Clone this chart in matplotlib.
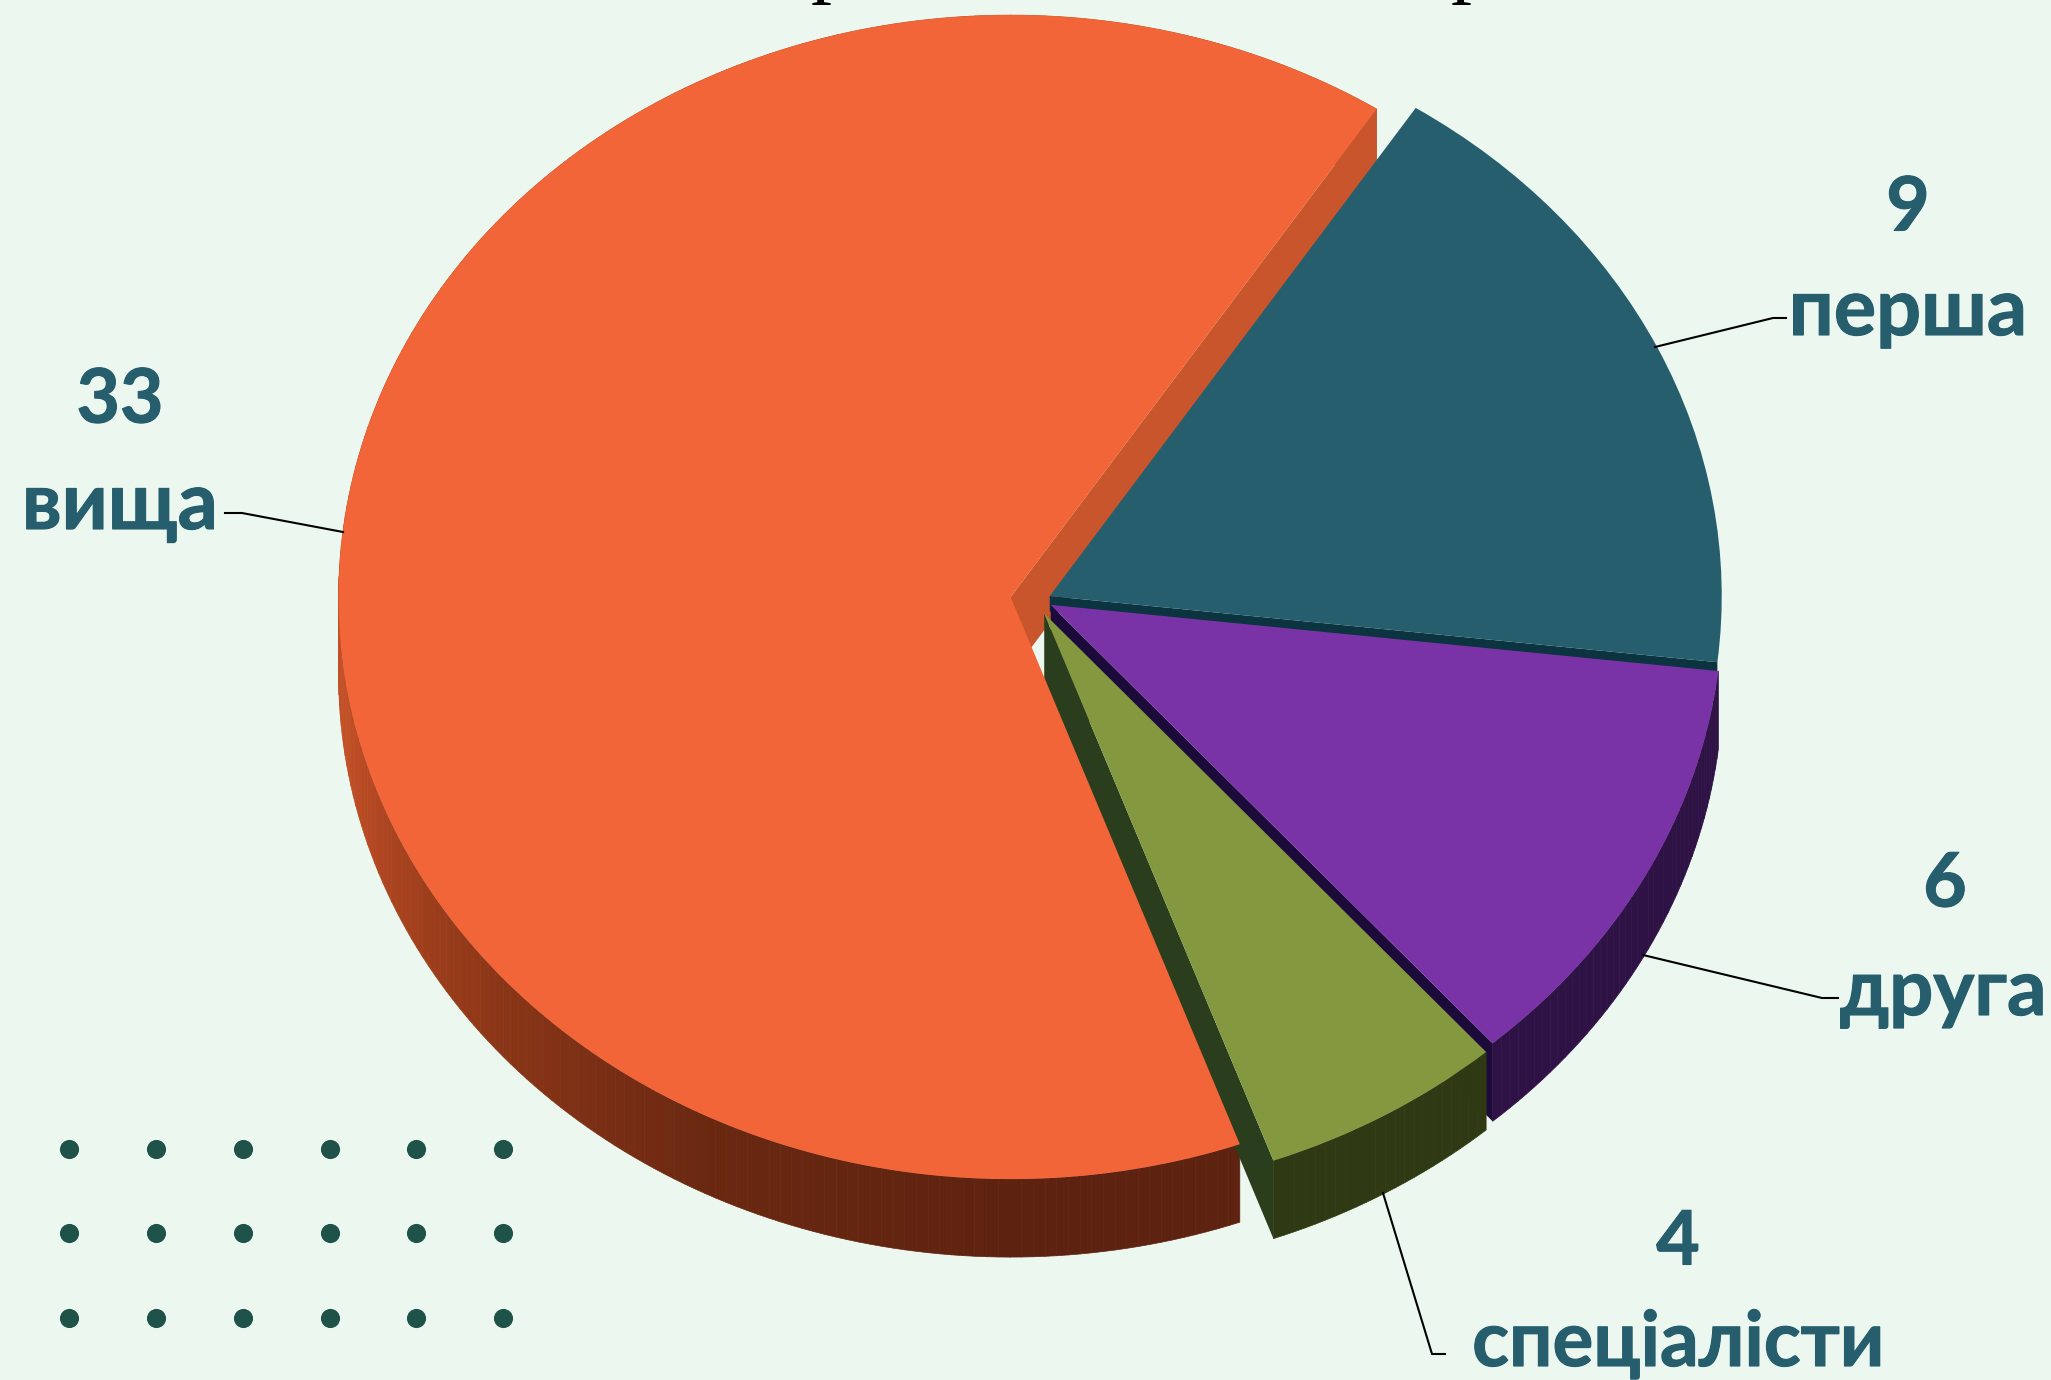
import numpy as np
import matplotlib
matplotlib.use("Agg")
import matplotlib.pyplot as plt
import matplotlib.patheffects as pe
from matplotlib.collections import PolyCollection
from matplotlib.colors import LinearSegmentedColormap

# slices go clockwise from the top right
labels = ["перша", "друга", "спеціалісти", "вища"]
value_labels = [9, 6, 4, 33]
# sizes as drawn: the green slice is drawn at 3 although its label says 4
slice_sizes = [9, 6, 3, 33]
top_colors = ["#265e6d", "#7a33a6", "#84993f", "#f26539"]
explode = [0.016, 0.018, 0.027, 0.044]

value_x = [1908, 1945, 1678, 120]
value_y = [209, 885, 1243, 401]
label_x = [1908, 1943, 1678, 120]
label_y = [313, 993, 1344, 507]
label_size = [57, 56, 55, 57]

leader_x = [[1655, 1773, 1786], [1643, 1822, 1838], [1383, 1432, 1445], [343, 242, 225]]
leader_y = [[347, 318, 318], [955, 998, 998], [1193, 1354, 1354], [532, 513, 513]]

dot_x = [69, 156, 243, 330, 416, 503]
dot_y = [1149, 1233, 1318]

bg = "#ecf7ef"
text_color = "#265e6d"
cx, cy = 1040, 600
rx, ry = 672, 582
depth = 78 / ry

fig = plt.figure(figsize=(20.51, 13.80), dpi=100, facecolor=bg)
ax = fig.add_axes([0, 0, 1, 1])
wedges, _ = ax.pie(slice_sizes, explode=explode, colors=top_colors, startangle=57,
                   counterclock=False, radius=1, wedgeprops={"linewidth": 0})
ax.set_aspect("auto")
ax.set_xlim(-cx / rx, (2051 - cx) / rx)
ax.set_ylim(-(1380 - cy) / ry, cy / ry)
teal, purple, green, orange = wedges
# the green slice sits a little left of where its explode puts it
green.set_center((green.center[0] - 5 / rx, green.center[1]))


def arc_pt(w, a):
    a = np.radians(a)
    return w.center[0] + w.r * np.cos(a), w.center[1] + w.r * np.sin(a)


def rim(w, colors, zorder):
    # outer wall of a slice, one quad per degree
    a = np.linspace(w.theta1, w.theta2, int(w.theta2 - w.theta1) + 2)
    cmap = LinearSegmentedColormap.from_list("rim", colors)
    polys, cols = [], []
    for i in range(len(a) - 1):
        x0, y0 = arc_pt(w, a[i])
        x1, y1 = arc_pt(w, a[i + 1])
        polys.append([(x0, y0), (x1, y1), (x1, y1 - depth), (x0, y0 - depth)])
        cols.append(cmap((a[i] - a[0]) / (a[-1] - a[0])))
    ax.add_collection(PolyCollection(polys, facecolors=cols, edgecolors=cols, linewidths=0.5, zorder=zorder))


def cut(w, angle, color, zorder, d=depth):
    # flat wall from the slice's apex to its edge
    x0, y0 = w.center
    x1, y1 = arc_pt(w, angle)
    ax.fill([x0, x1, x1, x0], [y0, y1, y1 - d, y0 - d], color=color, lw=0, zorder=zorder)


# orange wall turns from brown at the left to dark at the front
rim(orange, [(0, "#c8552b"), (0.57, "#c24f26"), (0.70, "#8b3617"), (0.80, "#6a2811"),
             (0.91, "#5e2310"), (1, "#5e2310")], 1)
cut(orange, orange.theta1, "#c8552b", 1)

rim(purple, ["#2e1245", "#2e1245"], 2)
# only a thin strip of the teal wall shows, so keep it shallow
cut(teal, teal.theta1, "#0b3340", 2, d=depth * 0.2)
cut(purple, purple.theta1, "#1c0a3a", 2)
rim(green, ["#2f3a14", "#2f3a14"], 2)
cut(green, green.theta1, "#2a3d1c", 2)

orange.set_zorder(3)
green.set_zorder(4)
purple.set_zorder(4)
teal.set_zorder(5)

# labels and decoration live on a pixel overlay
over = fig.add_axes([0, 0, 1, 1])
over.set_xlim(0, 2051)
over.set_ylim(1380, 0)
over.axis("off")
over.patch.set_alpha(0)

for xs, ys in zip(leader_x, leader_y):
    over.plot(xs, ys, color="black", lw=1.5)

thick = [pe.withStroke(linewidth=0.8, foreground=text_color)]
for i, lab in enumerate(labels):
    over.text(value_x[i], value_y[i], str(value_labels[i]), ha="center", va="center", color=text_color,
              fontsize=54, fontweight="bold", family=["Lato", "Noto Sans"], path_effects=thick)
    over.text(label_x[i], label_y[i], lab, ha="center", va="center", color=text_color,
              fontsize=label_size[i], fontweight="bold", family=["Lato", "Noto Sans"], path_effects=thick)

xx, yy = np.meshgrid(dot_x, dot_y)
over.scatter(xx.ravel(), yy.ravel(), s=190, color="#1f5248", linewidths=0)

# bottom of the cropped title
for x in [831, 1471]:
    over.text(x, 5, "р", ha="center", va="bottom", color="black", fontsize=60, family="Liberation Serif")

fig.savefig("out.png", dpi=100, facecolor=bg)
